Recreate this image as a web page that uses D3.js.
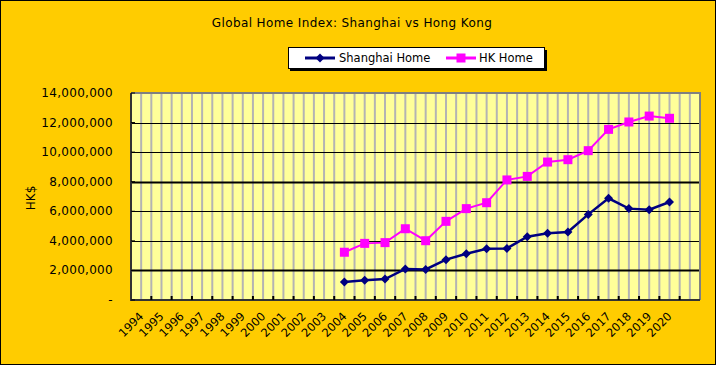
<!DOCTYPE html>
<html>
<head>
  <meta charset="UTF-8">
  <style>
    body { margin: 0; }
    svg text { font-family: "DejaVu Sans", Verdana, sans-serif; fill: #000; }
  </style>
</head>
<body>
  <svg></svg>
  <script src="https://d3js.org/d3.v7.min.js"></script>
  <script>
    // years on the category axis
    let years = d3.range(1994, 2021).map(String);
    // values start in 2004
    let dataYears = d3.range(2004, 2021).map(String);
    let shanghaiHome = [1220000, 1330000, 1420000, 2100000, 2070000, 2730000, 3130000, 3470000, 3490000,
      4280000, 4510000, 4600000, 5790000, 6880000, 6180000, 6110000, 6630000];
    let hkHome = [3230000, 3830000, 3880000, 4820000, 4010000, 5320000, 6180000, 6580000, 8120000,
      8360000, 9330000, 9490000, 10100000, 11540000, 12040000, 12440000, 12290000];
    let yTicks = [0, 2000000, 4000000, 6000000, 8000000, 10000000, 12000000, 14000000];

    let width = 716, height = 365;
    let plotL = 131, plotR = 700, plotT = 93, plotB = 300;

    let svg = d3.select("svg")
      .attr("width", width)
      .attr("height", height);

    // outer background
    svg.append("rect")
      .attr("x", 0.5).attr("y", 0.5)
      .attr("width", width - 1).attr("height", height - 1)
      .attr("fill", "#FFCC00")
      .attr("stroke", "#000");

    // one empty slot is left after 2020
    let x = d3.scaleLinear().domain([0, years.length + 1]).range([plotL, plotR]);
    let y = d3.scaleLinear().domain([0, 14000000]).range([plotB, plotT]);
    let xc = yr => x(years.indexOf(yr) + 0.5);

    // plot area
    svg.append("rect")
      .attr("x", plotL).attr("y", plotT)
      .attr("width", plotR - plotL).attr("height", plotB - plotT)
      .attr("fill", "#FFFF99");

    // vertical gray grid, every half category
    let halfSteps = d3.range(1, (years.length + 1) * 2).map(i => i / 2);
    svg.append("g")
      .selectAll("line")
      .data(halfSteps)
      .enter()
      .append("line")
      .attr("x1", d => x(d)).attr("x2", d => x(d))
      .attr("y1", plotT).attr("y2", plotB)
      .attr("stroke", "#B4B4B4")
      .attr("stroke-width", 2);

    // horizontal black grid
    svg.append("g")
      .selectAll("line")
      .data(yTicks.slice(1, -1))
      .enter()
      .append("line")
      .attr("x1", plotL).attr("x2", plotR)
      .attr("y1", d => Math.round(y(d)) + 0.5).attr("y2", d => Math.round(y(d)) + 0.5)
      .attr("stroke", "#000")
      .attr("stroke-width", d => (d == 2000000 || d == 8000000) ? 2 : 1);

    // border: gray top/right, dark left/bottom
    svg.append("path")
      .attr("d", `M${plotL},${plotT}H${plotR}V${plotB}`)
      .attr("fill", "none")
      .attr("stroke", "#808080")
      .attr("stroke-width", 2);
    svg.append("path")
      .attr("d", `M${plotL},${plotT}V${plotB}H${plotR}`)
      .attr("fill", "none")
      .attr("stroke", "#333")
      .attr("stroke-width", 2);

    // bottom ticks (inside)
    svg.append("g")
      .selectAll("line")
      .data(d3.range(1, years.length + 1))
      .enter()
      .append("line")
      .attr("x1", d => x(d)).attr("x2", d => x(d))
      .attr("y1", plotB).attr("y2", plotB - 4)
      .attr("stroke", "#000")
      .attr("stroke-width", 2);

    // left ticks (inside)
    svg.append("g")
      .selectAll("line")
      .data(yTicks)
      .enter()
      .append("line")
      .attr("x1", plotL).attr("x2", plotL + 4)
      .attr("y1", d => y(d)).attr("y2", d => y(d))
      .attr("stroke", "#000")
      .attr("stroke-width", 1);

    // y labels
    let fmt = d3.format(",");
    svg.append("g")
      .selectAll("text")
      .data(yTicks)
      .enter()
      .append("text")
      .attr("x", 113)
      .attr("y", d => y(d) + 4)
      .attr("text-anchor", "end")
      .style("font-size", "12px")
      .style("letter-spacing", "0.3px")
      .text(d => d == 0 ? "-" : fmt(d));

    // y title
    svg.append("text")
      .attr("transform", "translate(35,198) rotate(-90)")
      .attr("text-anchor", "middle")
      .style("font-size", "12px")
      .text("HK$");

    // x labels
    svg.append("g")
      .selectAll("text")
      .data(years)
      .enter()
      .append("text")
      .attr("transform", d => `translate(${xc(d) + 3},317) rotate(-45)`)
      .attr("text-anchor", "end")
      .style("font-size", "11.5px")
      .text(d => d);

    // lines
    let line = d3.line().x(d => xc(d[0])).y(d => y(d[1]));
    let shData = dataYears.map((yr, i) => [yr, shanghaiHome[i]]);
    let hkData = dataYears.map((yr, i) => [yr, hkHome[i]]);

    svg.append("path")
      .datum(shData)
      .attr("d", line)
      .attr("fill", "none")
      .attr("stroke", "#000080")
      .attr("stroke-width", 2.5);

    svg.append("path")
      .datum(hkData)
      .attr("d", line)
      .attr("fill", "none")
      .attr("stroke", "#FF00FF")
      .attr("stroke-width", 2);

    let diamond = "M0,-4.5L4.5,0L0,4.5L-4.5,0Z";

    svg.append("g")
      .selectAll("path")
      .data(shData)
      .enter()
      .append("path")
      .attr("d", diamond)
      .attr("transform", d => `translate(${xc(d[0])},${y(d[1])})`)
      .attr("fill", "#000080");

    svg.append("g")
      .selectAll("rect")
      .data(hkData)
      .enter()
      .append("rect")
      .attr("x", d => xc(d[0]) - 4.5)
      .attr("y", d => y(d[1]) - 4.5)
      .attr("width", 9).attr("height", 9)
      .attr("fill", "#FF00FF");

    // title
    svg.append("text")
      .attr("x", 352)
      .attr("y", 27)
      .attr("text-anchor", "middle")
      .style("font-size", "12px")
      .style("letter-spacing", "0.4px")
      .text("Global Home Index: Shanghai vs Hong Kong");

    // legend
    let lg = svg.append("g");
    lg.append("rect")
      .attr("x", 290).attr("y", 50)
      .attr("width", 257).attr("height", 21)
      .attr("fill", "#000");
    lg.append("rect")
      .attr("x", 288.5).attr("y", 47.5)
      .attr("width", 256).attr("height", 21)
      .attr("fill", "#fff")
      .attr("stroke", "#000");

    lg.append("line")
      .attr("x1", 305).attr("x2", 335).attr("y1", 58).attr("y2", 58)
      .attr("stroke", "#000080").attr("stroke-width", 3);
    lg.append("path")
      .attr("d", diamond)
      .attr("transform", "translate(320,58)")
      .attr("fill", "#000080");
    lg.append("text")
      .attr("x", 339).attr("y", 62)
      .style("font-size", "11.5px")
      .text("Shanghai Home");

    lg.append("line")
      .attr("x1", 446).attr("x2", 476).attr("y1", 58).attr("y2", 58)
      .attr("stroke", "#FF00FF").attr("stroke-width", 3);
    lg.append("rect")
      .attr("x", 456.5).attr("y", 53.5)
      .attr("width", 9).attr("height", 9)
      .attr("fill", "#FF00FF");
    lg.append("text")
      .attr("x", 479).attr("y", 62)
      .style("font-size", "11.5px")
      .text("HK Home");
  </script>
</body>
</html>
